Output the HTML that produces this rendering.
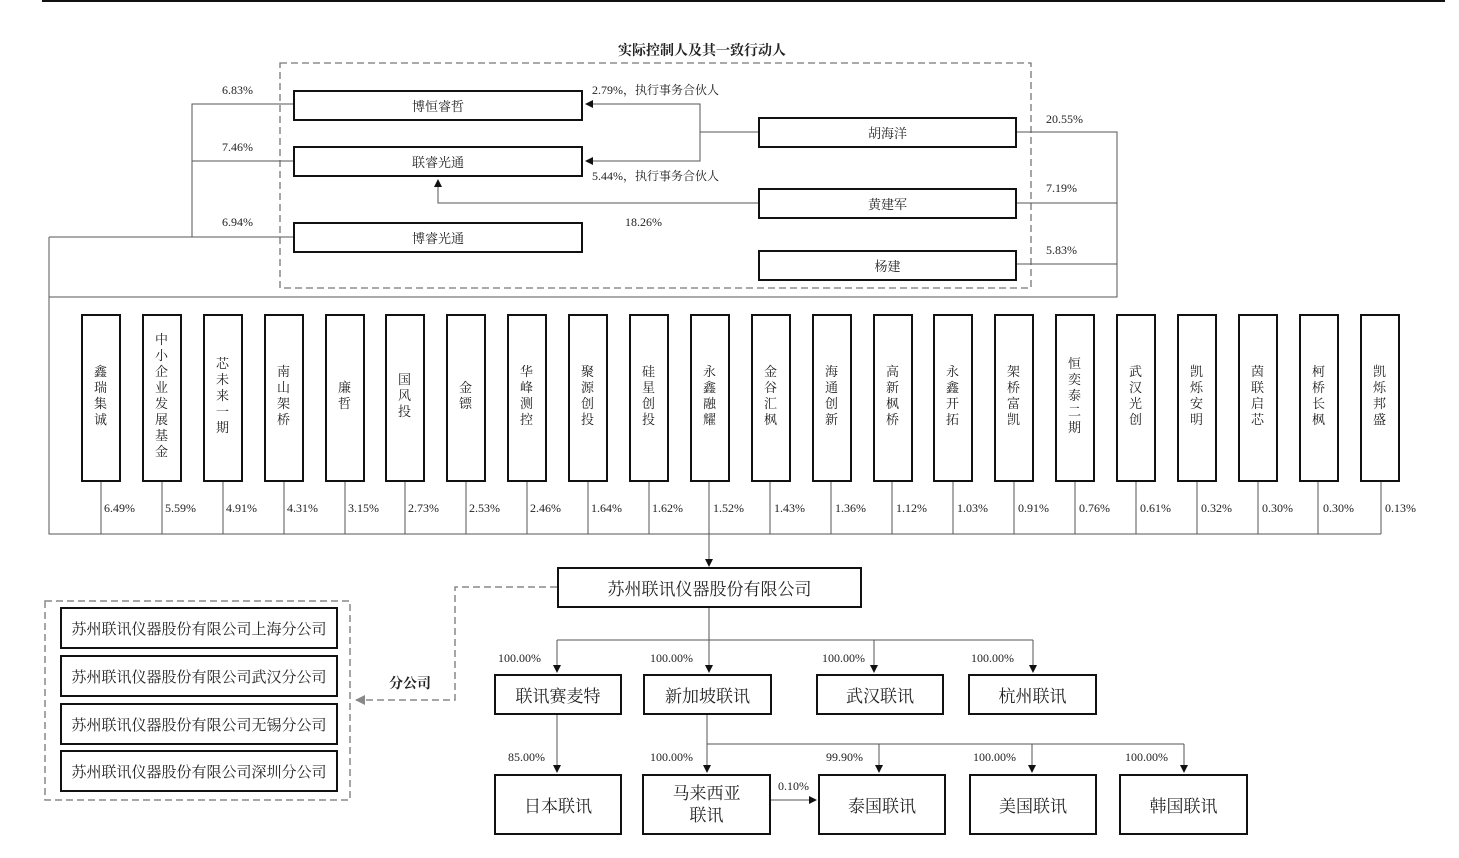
<!DOCTYPE html>
<html><head><meta charset="utf-8"><style>
body{margin:0;width:1459px;height:858px;background:#fff;position:relative;overflow:hidden;font-family:"Liberation Serif","Noto Serif CJK SC",serif;color:#222}
.b{position:absolute;border:2px solid #111;box-sizing:border-box;background:#fff;display:flex;align-items:center;justify-content:center;text-align:center}
.v{position:absolute;border:2px solid #111;box-sizing:border-box;background:#fff;width:40px;top:314px;height:168px;display:flex;align-items:center;justify-content:center;font-size:13px;line-height:16px;width:40px}
.v span{display:block;width:14px;word-break:break-all;margin-top:-4px}
.t{position:absolute;font-size:12px;white-space:nowrap}
svg{position:absolute;left:0;top:0}
</style></head><body>
<svg width="1459" height="858">
<defs><marker id="a" markerWidth="8" markerHeight="8" refX="7" refY="4" orient="auto" markerUnits="userSpaceOnUse"><path d="M0,0L8,4L0,8z" fill="#111"/></marker>
<marker id="g" markerWidth="10" markerHeight="10" refX="9" refY="5" orient="auto" markerUnits="userSpaceOnUse"><path d="M0,0L10,5L0,10z" fill="#888"/></marker></defs>
<line x1="42" y1="1" x2="1445" y2="1" stroke="#111" stroke-width="2"/>
<rect x="280" y="63" width="751" height="225" fill="none" stroke="#777" stroke-width="1.3" stroke-dasharray="7,4"/>
<g stroke="#555" stroke-width="1" fill="none">
<path d="M293,104H192V237M192,161H293M49,237H293M49,237V534H1381"/>
<path d="M758,132H700V104H586M700,132V161H586" marker-end="url(#a)"/>
<path d="M700,104H586" marker-end="url(#a)"/>
<path d="M758,203H438V180" marker-end="url(#a)"/>
<path d="M1016,132H1117V297H49M1016,203H1117M1016,264H1117"/>
<path d="M709,534V566" marker-end="url(#a)"/>
<path d="M709,607V640M557,640H1033"/>
<path d="M557,640V672" marker-end="url(#a)"/><path d="M709,640V672" marker-end="url(#a)"/>
<path d="M874,640V672" marker-end="url(#a)"/><path d="M1033,640V672" marker-end="url(#a)"/>
<path d="M557,714V772" marker-end="url(#a)"/>
<path d="M707,714V744H1184"/>
<path d="M707,744V772" marker-end="url(#a)"/><path d="M879,744V772" marker-end="url(#a)"/>
<path d="M1032,744V772" marker-end="url(#a)"/><path d="M1184,744V772" marker-end="url(#a)"/>
<path d="M770,800H816" marker-end="url(#a)"/>
</g>
<g stroke="#555" stroke-width="1">
<line x1="101" y1="481" x2="101" y2="534"/><line x1="162" y1="481" x2="162" y2="534"/><line x1="223" y1="481" x2="223" y2="534"/><line x1="284" y1="481" x2="284" y2="534"/><line x1="345" y1="481" x2="345" y2="534"/><line x1="405" y1="481" x2="405" y2="534"/><line x1="466" y1="481" x2="466" y2="534"/><line x1="527" y1="481" x2="527" y2="534"/><line x1="588" y1="481" x2="588" y2="534"/><line x1="649" y1="481" x2="649" y2="534"/><line x1="709" y1="481" x2="709" y2="534"/><line x1="770" y1="481" x2="770" y2="534"/><line x1="831" y1="481" x2="831" y2="534"/><line x1="892" y1="481" x2="892" y2="534"/><line x1="953" y1="481" x2="953" y2="534"/><line x1="1014" y1="481" x2="1014" y2="534"/><line x1="1075" y1="481" x2="1075" y2="534"/><line x1="1136" y1="481" x2="1136" y2="534"/><line x1="1197" y1="481" x2="1197" y2="534"/><line x1="1258" y1="481" x2="1258" y2="534"/><line x1="1318" y1="481" x2="1318" y2="534"/><line x1="1381" y1="481" x2="1381" y2="534"/>
</g>
<rect x="45" y="601" width="305" height="199" fill="none" stroke="#888" stroke-width="1.5" stroke-dasharray="7,4"/>
<path d="M557,587H455V700H356" fill="none" stroke="#888" stroke-width="1.5" stroke-dasharray="7,4" marker-end="url(#g)"/>
</svg>

<div class="t" style="left:618px;top:40px;font-size:14px;font-weight:bold">实际控制人及其一致行动人</div>
<div class="b" style="left:293px;top:90px;width:290px;height:31px;font-size:13px">博恒睿哲</div>
<div class="b" style="left:293px;top:146px;width:290px;height:31px;font-size:13px">联睿光通</div>
<div class="b" style="left:293px;top:222px;width:290px;height:31px;font-size:13px">博睿光通</div>
<div class="b" style="left:758px;top:117px;width:259px;height:31px;font-size:13px">胡海洋</div>
<div class="b" style="left:758px;top:188px;width:259px;height:31px;font-size:13px">黄建军</div>
<div class="b" style="left:758px;top:250px;width:259px;height:31px;font-size:13px">杨建</div>
<div class="t" style="left:222px;top:83px">6.83%</div>
<div class="t" style="left:222px;top:140px">7.46%</div>
<div class="t" style="left:222px;top:215px">6.94%</div>
<div class="t" style="left:592px;top:81px">2.79%，执行事务合伙人</div>
<div class="t" style="left:592px;top:167px">5.44%，执行事务合伙人</div>
<div class="t" style="left:625px;top:215px">18.26%</div>
<div class="t" style="left:1046px;top:112px">20.55%</div>
<div class="t" style="left:1046px;top:181px">7.19%</div>
<div class="t" style="left:1046px;top:243px">5.83%</div>

<div class="v" style="left:81px"><span>鑫瑞集诚</span></div>
<div class="v" style="left:142px"><span>中小企业发展基金</span></div>
<div class="v" style="left:203px"><span>芯未来一期</span></div>
<div class="v" style="left:264px"><span>南山架桥</span></div>
<div class="v" style="left:325px"><span>廉哲</span></div>
<div class="v" style="left:385px"><span>国风投</span></div>
<div class="v" style="left:446px"><span>金镖</span></div>
<div class="v" style="left:507px"><span>华峰测控</span></div>
<div class="v" style="left:568px"><span>聚源创投</span></div>
<div class="v" style="left:629px"><span>硅星创投</span></div>
<div class="v" style="left:690px"><span>永鑫融耀</span></div>
<div class="v" style="left:751px"><span>金谷汇枫</span></div>
<div class="v" style="left:812px"><span>海通创新</span></div>
<div class="v" style="left:873px"><span>高新枫桥</span></div>
<div class="v" style="left:933px"><span>永鑫开拓</span></div>
<div class="v" style="left:994px"><span>架桥富凯</span></div>
<div class="v" style="left:1055px"><span>恒奕泰二期</span></div>
<div class="v" style="left:1116px"><span>武汉光创</span></div>
<div class="v" style="left:1177px"><span>凯烁安明</span></div>
<div class="v" style="left:1238px"><span>茵联启芯</span></div>
<div class="v" style="left:1299px"><span>柯桥长枫</span></div>
<div class="v" style="left:1360px"><span>凯烁邦盛</span></div>

<div class="t" style="left:104px;top:501px">6.49%</div>
<div class="t" style="left:165px;top:501px">5.59%</div>
<div class="t" style="left:226px;top:501px">4.91%</div>
<div class="t" style="left:287px;top:501px">4.31%</div>
<div class="t" style="left:348px;top:501px">3.15%</div>
<div class="t" style="left:408px;top:501px">2.73%</div>
<div class="t" style="left:469px;top:501px">2.53%</div>
<div class="t" style="left:530px;top:501px">2.46%</div>
<div class="t" style="left:591px;top:501px">1.64%</div>
<div class="t" style="left:652px;top:501px">1.62%</div>
<div class="t" style="left:713px;top:501px">1.52%</div>
<div class="t" style="left:774px;top:501px">1.43%</div>
<div class="t" style="left:835px;top:501px">1.36%</div>
<div class="t" style="left:896px;top:501px">1.12%</div>
<div class="t" style="left:957px;top:501px">1.03%</div>
<div class="t" style="left:1018px;top:501px">0.91%</div>
<div class="t" style="left:1079px;top:501px">0.76%</div>
<div class="t" style="left:1140px;top:501px">0.61%</div>
<div class="t" style="left:1201px;top:501px">0.32%</div>
<div class="t" style="left:1262px;top:501px">0.30%</div>
<div class="t" style="left:1323px;top:501px">0.30%</div>
<div class="t" style="left:1385px;top:501px">0.13%</div>

<div class="b" style="left:557px;top:567px;width:305px;height:41px;font-size:17px">苏州联讯仪器股份有限公司</div>
<div class="b" style="left:494px;top:674px;width:128px;height:41px;font-size:17px">联讯赛麦特</div>
<div class="b" style="left:643px;top:674px;width:129px;height:41px;font-size:17px">新加坡联讯</div>
<div class="b" style="left:816px;top:674px;width:128px;height:41px;font-size:17px">武汉联讯</div>
<div class="b" style="left:968px;top:674px;width:129px;height:41px;font-size:17px">杭州联讯</div>
<div class="b" style="left:494px;top:774px;width:128px;height:61px;font-size:17px">日本联讯</div>
<div class="b" style="left:642px;top:774px;width:129px;height:61px;font-size:17px;line-height:22px">马来西亚<br>联讯</div>
<div class="b" style="left:818px;top:774px;width:128px;height:61px;font-size:17px">泰国联讯</div>
<div class="b" style="left:969px;top:774px;width:128px;height:61px;font-size:17px">美国联讯</div>
<div class="b" style="left:1119px;top:774px;width:129px;height:61px;font-size:17px">韩国联讯</div>
<div class="t" style="left:498px;top:651px">100.00%</div>
<div class="t" style="left:650px;top:651px">100.00%</div>
<div class="t" style="left:822px;top:651px">100.00%</div>
<div class="t" style="left:971px;top:651px">100.00%</div>
<div class="t" style="left:508px;top:750px">85.00%</div>
<div class="t" style="left:650px;top:750px">100.00%</div>
<div class="t" style="left:826px;top:750px">99.90%</div>
<div class="t" style="left:973px;top:750px">100.00%</div>
<div class="t" style="left:1125px;top:750px">100.00%</div>
<div class="t" style="left:778px;top:779px">0.10%</div>
<div class="t" style="left:389px;top:673px;font-size:14px;font-weight:bold">分公司</div>
<div class="b" style="left:60px;top:607px;width:278px;height:42px;font-size:15px">苏州联讯仪器股份有限公司上海分公司</div>
<div class="b" style="left:60px;top:655px;width:278px;height:42px;font-size:15px">苏州联讯仪器股份有限公司武汉分公司</div>
<div class="b" style="left:60px;top:703px;width:278px;height:42px;font-size:15px">苏州联讯仪器股份有限公司无锡分公司</div>
<div class="b" style="left:60px;top:750px;width:278px;height:42px;font-size:15px">苏州联讯仪器股份有限公司深圳分公司</div>
</body></html>
